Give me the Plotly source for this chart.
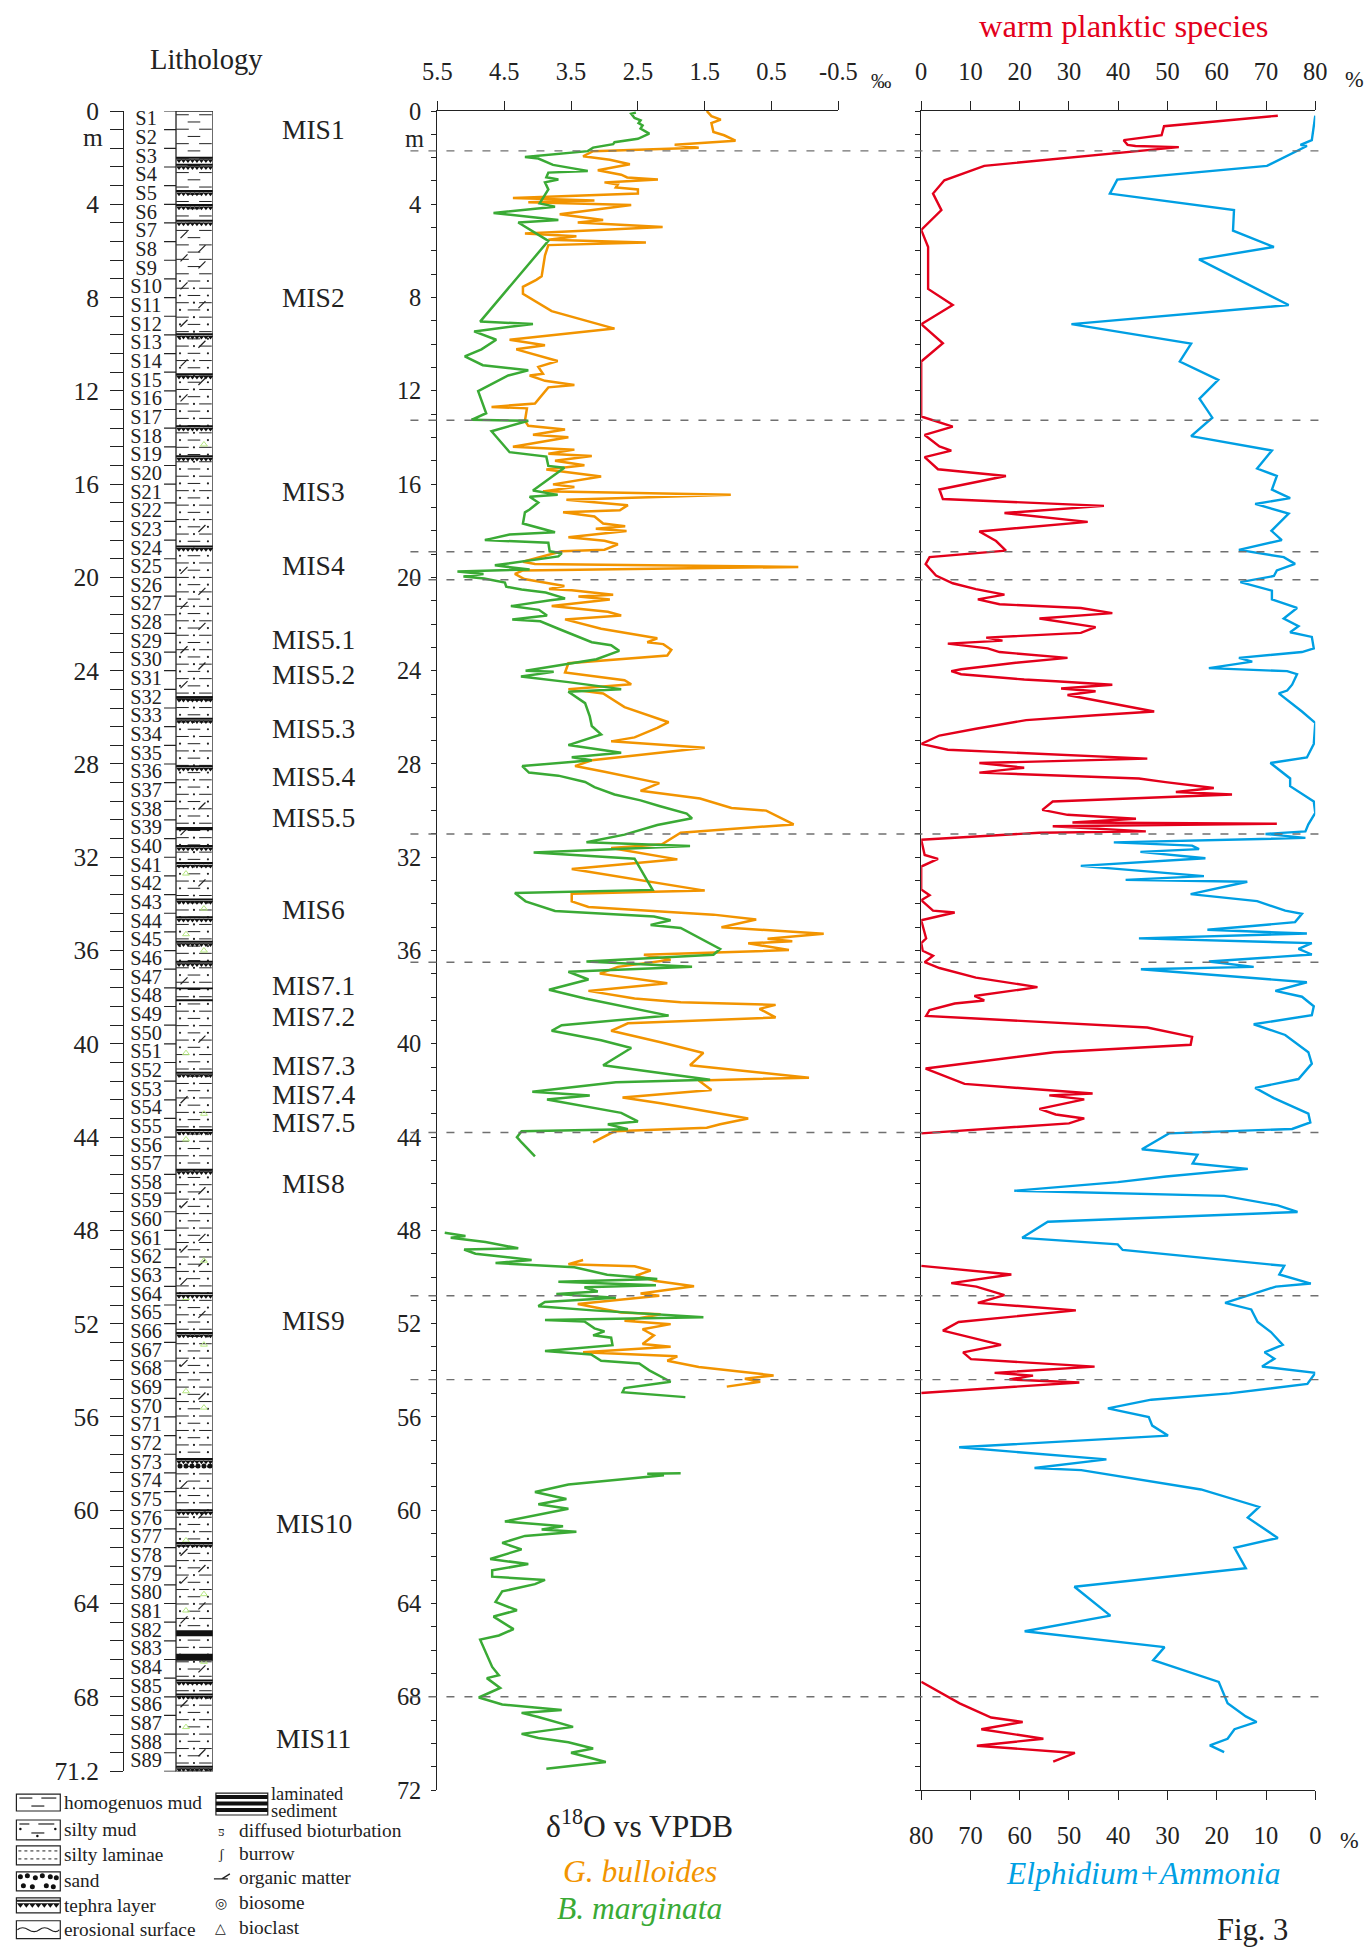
import numpy as np
import plotly.graph_objects as go

W, H = 1368, 1957
# observed capture transform: shown = A + B * page  (compensated below)
AX, BX = 13.6, 0.9775
AY, BY = 14.75, 0.9875
FS = 1 / 0.982
FONT = "Liberation Serif, Times New Roman, serif"
ORANGE = "#F29400"
GREEN = "#3AAA35"
RED = "#E3001B"
BLUE = "#009FE3"
DASH = "#707070"

# ---------------- data ----------------
# G. bulloides d18O (permil) vs depth (m); None = gap
gb_depth = [0.0, 0.22, 0.37, 0.52, 0.90, 1.04, 1.27, 1.45, 1.57, 1.72, 1.94, 2.09, 2.28, 2.54, 2.73, 2.85, 2.94,
            3.06, 3.15, 3.28, 3.36, 3.54, 3.73, 3.84, 3.91, 4.03, 4.43, 4.67, 4.78, 4.97, 5.25, 5.37, 5.52, 5.64,
            5.75, 6.19, 7.09, 7.24, 7.54, 7.84, 8.58, 9.33, 9.81, 10.04, 10.22, 10.72, 10.97, 11.27, 11.34, 11.57,
            11.75, 11.85, 12.54, 12.69, 12.75, 13.28, 13.50, 13.66, 13.88, 13.99, 14.40, 14.52, 14.70, 14.79, 15.00,
            15.19, 15.37, 15.67, 16.01, 16.12, 16.31, 16.46, 16.67, 16.78, 16.90, 17.12, 17.21, 17.39, 17.69, 17.81,
            17.91, 18.01, 18.28, 18.43, 18.58, 18.81, 18.88, 19.33, 19.42, 19.55, 19.70, 19.85, 20.07, 20.37, 20.50,
            20.55, 20.74, 20.82, 20.95, 21.23, 21.39, 21.47, 21.63, 21.80, 22.20, 22.29, 22.61, 22.78, 22.86, 23.10,
            23.35, 23.68, 24.08, 24.41, 24.58, 24.79, 24.98, 25.56, 25.92, 26.21, 26.45, 26.86, 27.03, 27.30, 27.84,
            28.09, 28.33, 28.58, 28.82, 29.15, 29.48, 29.89, 30.00, 30.59, 30.95, 31.44, 31.60, 32.09, 32.50, 33.43,
            33.56, 33.89, 34.13, 34.46, 34.67, 35.00, 35.28, 35.49, 35.60, 35.69, 35.98, 36.18, 36.39, 36.70, 36.99,
            37.40, 37.73, 38.06, 38.22, 38.33, 38.50, 38.87, 39.12, 39.44, 39.93, 40.39, 40.92, 41.45, 41.57, 41.98,
            42.30, 42.55, 42.96, 43.20, 43.45, 43.60, 43.75, 44.23, None,
            49.27, 49.45, 49.54, 49.72, 49.94, 50.17, 50.40, 50.71, 50.80, 51.16, 51.52, 51.60, 51.88, 52.02, 52.24,
            52.50, 52.87, 52.99, 53.23, 53.40, 53.59, 53.86, 54.22, 54.36, 54.49, 54.70]
gb_d18o = [1.47, 1.40, 1.26, 1.40, 1.37, 1.21, 1.04, 1.95, 1.59, 3.17, 3.32, 2.92, 2.62, 3.10, 2.75, 2.66, 2.20,
           3.00, 2.80, 2.83, 2.50, 2.50, 4.37, 3.15, 4.14, 2.60, 3.67, 3.02, 3.40, 2.13, 4.19, 3.42, 3.84, 2.38,
           3.84, 3.89, 3.94, 4.02, 4.22, 4.22, 3.79, 2.85, 4.42, 3.89, 4.32, 3.70, 3.99, 3.92, 4.12, 3.89,
           3.45, 3.84, 4.04, 4.69, 4.16, 4.19, 4.14, 3.59, 4.07, 3.54, 4.37, 3.45, 3.84, 3.19, 3.74,
           3.30, 3.87, 3.05, 3.77, 3.45, 3.92, 1.11, 3.57, 3.15, 2.65, 2.77, 3.62, 3.15, 3.02, 2.69,
           3.13, 2.67, 3.54, 3.00, 2.80, 3.00, 3.64, 4.22, 4.04, 0.10, 4.22, 4.34, 4.20, 3.60, 3.83,
           3.49, 2.87, 3.39, 2.92, 3.79, 3.19, 2.95, 2.75, 3.59, 3.05, 2.85, 2.21, 2.36, 2.12, 2.00,
           2.06, 3.54, 3.59, 2.70, 2.60, 3.54, 3.02, 2.70, 2.33, 2.04, 2.21, 2.55, 2.90, 1.50, 3.19,
           3.44, 3.00, 2.58, 2.18, 2.46, 1.57, 1.10, 0.58, 0.17, 1.86, 2.14, 2.90, 1.91, 3.49, 1.50,
           3.49, 3.49, 3.24, 1.37, 0.73, 1.25, -0.28, 0.56, 0.19, 0.85, 0.24, 2.41, 2.01, 2.80, 3.07,
           2.06, 3.24, 2.55, 1.86, 0.44, 0.68, 0.44, 2.65, 2.90, 2.16, 1.52, 1.72, -0.06, 1.59, 1.40,
           2.73, 2.16, 1.37, 0.85, 1.27, 1.47, 2.85, 3.17, None,
           3.32, 3.54, 2.55, 2.31, 2.53, 2.23, 1.66, 2.46, 2.18, 3.40, 2.75, 2.16, 2.70, 2.01, 2.43,
           2.26, 2.43, 2.01, 3.32, 1.91, 2.06, 1.59, 0.47, 0.90, 0.67, 1.17]

# B. marginata d18O
bm_depth = [0.07, 0.12, 0.30, 0.40, 0.52, 0.62, 0.75, 0.97, 1.19, 1.34, 1.42, 1.57, 1.72, 1.97, 2.04, 2.31, 2.46,
            2.57, 2.64, 2.84, 2.94, 3.06, 3.36, 3.58, 3.96, 4.10, 4.37, 4.67, 4.78, 5.57, 9.03, 9.13, 9.45, 9.81,
            10.22, 10.52, 10.90, 11.12, 11.34, 12.01, 12.96, 13.24, 13.28, 13.73, 14.63, 14.82, 15.22, 15.30, 16.27,
            16.46, 16.54, 16.79, 17.09, 17.21, 17.69, 18.06, 18.16, 18.40, 18.51, 18.88, 18.96, 19.10, 19.48, 19.66,
            19.75, 19.85, 19.96, 20.05, 20.22, 20.40, 20.52, 20.65, 20.90, 20.98, 21.23, 21.39, 21.63, 21.80, 21.88,
            22.20, 22.48, 22.78, 22.91, 23.15, 23.51, 23.76, 24.00, 24.05, 24.25, 24.49, 24.79, 24.90, 25.39, 25.96,
            26.37, 26.73, 27.19, 27.52, 27.71, 27.84, 28.09, 28.37, 28.50, 28.77, 28.99, 29.31, 29.56, 29.80, 30.13,
            30.33, 30.62, 31.03, 31.36, 31.52, 31.80, 32.06, 33.40, 33.53, 33.89, 34.30, 34.54, 34.70, 34.90, 35.03,
            35.93, 36.18, 36.47, 36.70, 36.91, 37.24, 37.40, 37.68, 38.06, 38.79, 39.20, 39.44, 39.85, 40.18, 40.92,
            41.54, 41.65, 42.06, 42.22, 42.39, 42.96, 43.33, 43.45, 43.66, 43.75, 44.00, 44.23, 44.83, None,
            48.10, 48.17, 48.24, 48.32, 48.50, 48.77, 48.82, 49.00, 49.27, 49.40, 49.58, 49.90, 50.08, 50.20, 50.35,
            50.44, 50.62, 50.73, 50.89, 51.07, 51.25, 51.43, 51.73, 51.84, 51.91, 52.20, 52.33, 52.50, 52.60, 52.92,
            53.17, 53.32, 53.59, 53.71, 54.00, 54.49, 54.76, 54.94, 55.15, None,
            58.41, 58.44, 58.50, 58.90, 59.22, 59.52, 59.74, 59.94, 60.48, 60.69, 60.83, 60.92, 61.10, 61.40, 61.68,
            62.09, 62.31, 62.58, 62.85, 62.99, 63.17, 63.35, 63.48, 63.93, 64.29, 64.56, 65.10, 65.37, 65.55, 66.72,
            67.08, 67.20, 67.62, 68.03, 68.33, 68.57, 68.69, 68.87, 69.29, 69.59, 69.77, 69.95, 70.22, 70.40, 70.80,
            71.09]
bm_d18o = [2.53, 2.60, 2.55, 2.46, 2.49, 2.43, 2.46, 2.33, 2.50, 2.85, 2.87, 3.17, 3.25, 4.19, 3.99, 3.77, 3.47,
           3.25, 3.84, 3.87, 3.69, 3.89, 3.84, 3.89, 3.97, 3.74, 4.66, 3.69, 4.29, 3.84, 4.86, 4.07, 4.95, 4.62,
           4.84, 5.09, 4.82, 4.14, 4.44, 4.89, 4.77, 4.99, 4.14, 4.69, 4.42, 3.87, 3.84, 3.60, 4.07,
           3.70, 4.12, 3.99, 4.12, 4.19, 4.22, 3.74, 4.42, 4.79, 3.84, 3.82, 3.64, 3.69, 4.64, 4.12,
           5.20, 4.81, 5.11, 4.80, 4.49, 4.47, 4.24, 3.88, 3.59, 3.81, 4.40, 3.98, 3.86, 4.38, 3.96,
           3.69, 3.44, 3.19, 2.90, 2.78, 3.12, 3.69, 4.18, 3.76, 4.25, 3.54, 2.75, 3.54, 3.29, 3.22,
           3.19, 3.05, 3.54, 2.75, 3.49, 3.19, 4.23, 4.13, 3.69, 3.29, 3.15, 2.85, 2.46, 2.18, 1.77,
           1.69, 2.21, 2.70, 3.27, 1.72, 4.06, 2.55, 2.28, 4.34, 4.18, 3.74, 2.26, 2.01, 2.31, 1.86,
           1.27, 1.37, 3.27, 1.69, 3.54, 3.24, 3.47, 3.83, 3.29, 2.04, 3.64, 3.79, 3.05, 2.60, 3.02,
           1.42, 2.83, 4.08, 3.22, 3.86, 2.75, 2.50, 2.95, 2.65, 4.24, 4.31, 4.24, 4.04, None,
           5.39, 5.23, 5.08, 5.30, 4.78, 4.29, 5.10, 4.93, 4.09, 4.63, 3.45, 2.96, 2.21, 3.69, 2.23,
           3.30, 3.10, 3.72, 2.83, 3.89, 3.99, 3.17, 1.52, 3.89, 3.30, 3.15, 3.00, 3.17, 2.90, 2.88,
           3.89, 3.20, 3.05, 2.48, 2.33, 2.01, 2.70, 2.73, 1.79, None,
           1.86, 2.36, 2.11, 3.54, 4.04, 3.57, 3.99, 3.54, 4.49, 3.62, 3.94, 3.42, 4.19, 4.53, 4.24,
           4.71, 4.14, 4.68, 4.68, 3.89, 4.04, 4.31, 4.53, 4.63, 4.31, 4.66, 4.36, 4.58, 4.86, 4.68,
           4.58, 4.76, 4.56, 4.88, 4.53, 3.64, 4.24, 3.99, 3.47, 4.24, 3.99, 3.54, 3.17, 3.50, 2.98,
           3.87]

# warm planktic species (%)
warm_depth = [0.20, 0.65, 1.04, 1.25, 1.45, 1.50, 1.55, 2.35, 2.97, 3.54, 4.25, 5.10, 5.83, 7.63, 8.32, 9.14,
              9.96, 10.74, 13.10, 13.53, 13.89, 14.38, 14.56, 14.84, 15.36, 15.65, 16.23, 16.64, 16.93, 17.24,
              17.62, 18.03, 18.44, 18.85, 19.13, 19.43, 19.92, 20.25, 20.50, 20.74, 20.94, 21.15, 21.31, 21.53,
              21.76, 22.13, 22.38, 22.58, 22.71, 22.84, 23.04, 23.20, 23.45, 23.66, 23.94, 24.02, 24.15, 24.38,
              24.45, 24.60, 24.76, 24.88, 25.04, 25.58, 25.75, 25.91, 26.12, 26.49, 26.78, 27.14, 27.39, 27.77,
              27.96, 28.16, 28.37, 28.62, 28.78, 29.03, 29.20, 29.31, 29.61, 29.97, 30.18, 30.35, 30.51, 30.56,
              30.67, 30.89, 30.95, 31.25, 31.90, 32.07, 32.40, 33.38, 33.63, 33.84, 34.29, 34.37, 34.70, 35.48,
              35.68, 36.01, 36.22, 36.50, 36.75, 37.16, 37.57, 37.95, 38.14, 38.27, 38.55, 38.80, 39.10, 39.30,
              39.70, 40.04, 40.36, 40.65, 41.06, 41.72, 42.13, 42.21, 42.38, 42.79, 43.03, 43.20, 43.41, 43.84, None,
              49.52, 49.89, 50.26, 50.41, 50.78, 51.11, 51.43, 51.93, 52.30, 52.91, 53.23, 53.52, 53.84, 54.11,
              54.23, 54.39, 54.52, 54.97, None,
              67.36, 68.28, 68.89, 69.08, 69.39, 69.80, 70.10, 70.41, 70.78]
warm_pct = [72.4, 49.3, 48.8, 41.1, 41.9, 43.5, 52.3, 12.8, 4.7, 2.4, 4.1, 0.0, 1.4, 1.4, 6.4, 0.0,
            4.4, 0.0, 0.0, 6.4, 0.7, 3.7, 6.1, 0.7, 3.4, 17.2, 3.7, 4.4, 37.1, 16.9,
            33.8, 11.8, 15.2, 17.2, 1.7, 0.9, 3.0, 6.4, 11.1, 16.9, 11.5, 15.9, 32.4, 38.8,
            24.0, 35.4, 32.4, 13.2, 16.5, 5.4, 13.5, 15.9, 29.7, 19.2, 8.1, 6.1, 8.1, 20.9,
            27.3, 38.8, 28.4, 35.4, 29.7, 43.6, 47.3, 35.4, 21.3, 11.1, 3.7, 0.0, 5.4, 45.9,
            11.8, 20.9, 11.8, 44.2, 49.6, 59.4, 51.7, 63.1, 26.7, 24.6, 29.7, 43.6, 30.7, 72.2,
            26.7, 45.6, 24.0, 0.0, 0.7, 3.4, 0.0, 0.0, 1.7, 0.0, 2.4, 6.8, 0.0, 1.0,
            0.0, 0.3, 2.4, 0.7, 3.7, 11.1, 23.6, 10.8, 12.8, 6.8, 1.7, 1.0, 29.4, 45.9,
            55.0, 54.7, 27.0, 16.5, 0.9, 8.8, 34.8, 26.0, 33.1, 24.0, 27.3, 33.1, 30.0, 0.0, None,
            0.0, 18.3, 6.1, 11.2, 16.9, 11.5, 31.4, 7.6, 4.4, 16.2, 8.5, 10.1, 35.2, 14.9,
            22.7, 17.9, 32.1, 0.0, None,
            0.0, 7.8, 14.2, 20.6, 12.2, 24.8, 11.3, 31.2, 26.8]

# Elphidium + Ammonia (%), plotted on reversed bottom axis
elph_depth = [0.20, 1.25, 1.45, 1.50, 2.35, 2.94, 3.54, 4.25, 5.13, 5.83, 6.36, 8.32, 9.14, 9.97, 10.74, 11.53,
              12.33, 13.15, 13.94, 14.56, 15.33, 15.65, 16.23, 16.60, 16.85, 17.26, 18.00, 18.40, 18.82, 19.13,
              19.42, 19.70, 19.94, 20.20, 20.57, 20.94, 21.31, 21.76, 22.09, 22.35, 22.55, 23.04, 23.20, 23.45,
              23.61, 23.89, 24.02, 24.15, 24.60, 24.85, 24.97, 25.75, 26.24, 27.14, 27.72, 27.96, 28.62, 28.95,
              29.61, 30.10, 30.59, 30.89, 31.00, 31.17, 31.36, 31.50, 31.65, 31.77, 32.04, 32.37, 32.81, 32.97,
              33.05, 33.58, 33.88, 34.29, 34.42, 34.78, 34.95, 35.11, 35.27, 35.48, 35.68, 35.93, 36.17, 36.47,
              36.70, 36.80, 37.36, 37.73, 37.98, 38.39, 38.77, 39.16, 39.62, 40.36, 40.85, 41.51, 41.89, 42.33,
              42.99, 43.37, 43.65, 43.84, 44.52, 44.76, 45.13, 45.36, 45.69, 45.93, 46.30, 46.52, 46.93, 47.21,
              47.63, 48.32, 48.60, 48.84, 49.52, 49.89, 50.28, 50.41, 51.11, 51.39, 51.93, 52.36, 52.91, 53.23,
              53.50, 53.84, 54.11, 54.39, 54.58, 54.99, 55.26, 55.63, 56.00, 56.37, 56.80, 57.30, 57.82, 58.19,
              58.28, 59.11, 59.86, 60.32, 61.19, 61.61, 62.49, 63.28, 64.52, 65.19, 65.87, 66.43, 67.36, 68.28,
              68.84, 69.08, 69.39, 69.80, 70.08, 70.37]
elph_pct = [0.0, 0.7, 3.0, 1.7, 9.8, 40.2, 41.7, 16.5, 16.7, 8.4, 23.6, 5.4, 49.5, 25.2, 27.5, 19.7,
            23.5, 20.9, 25.2, 8.8, 11.8, 7.8, 8.8, 5.1, 12.2, 5.4, 8.9, 6.8, 15.5, 6.4,
            4.1, 7.8, 8.4, 15.2, 8.8, 8.8, 3.7, 6.4, 3.4, 5.1, 0.7, 0.3, 2.7, 15.5,
            12.8, 21.6, 5.7, 3.7, 4.7, 5.7, 7.4, 2.7, 0.0, 0.3, 1.7, 9.1, 5.1, 5.1,
            0.3, 0.0, 1.4, 2.0, 10.1, 2.0, 40.9, 25.0, 23.6, 35.5, 22.3, 47.6, 22.6, 38.5,
            13.8, 25.3, 11.8, 6.1, 2.7, 4.1, 12.8, 21.9, 1.7, 35.8, 0.7, 3.4, 0.7, 21.6,
            12.5, 35.4, 1.7, 8.1, 2.7, 0.3, 0.7, 12.5, 6.1, 1.4, 0.7, 3.4, 12.2, 8.4,
            1.4, 1.0, 4.7, 29.7, 35.2, 23.9, 24.9, 13.7, 30.3, 40.1, 61.1, 18.5, 7.6, 3.6,
            54.3, 59.5, 40.1, 39.1, 6.3, 7.3, 0.9, 8.0, 18.3, 13.0, 11.7, 9.0, 6.6, 10.3,
            8.3, 10.8, 0.0, 0.9, 1.6, 17.4, 33.3, 42.1, 33.8, 33.1, 29.9, 72.3, 42.4, 57.0,
            47.5, 23.2, 11.4, 13.7, 7.6, 16.4, 14.1, 48.9, 41.6, 59.0, 30.6, 32.9, 19.6, 17.8,
            14.1, 11.9, 16.4, 17.8, 21.4, 18.5]

mis_labels = ["MIS1", "MIS2", "MIS3", "MIS4", "MIS5.1", "MIS5.2", "MIS5.3", "MIS5.4", "MIS5.5", "MIS6",
              "MIS7.1", "MIS7.2", "MIS7.3", "MIS7.4", "MIS7.5", "MIS8", "MIS9", "MIS10", "MIS11"]
mis_depth = [0.8, 8.0, 16.35, 19.5, 22.7, 24.2, 26.5, 28.55, 30.3, 34.25, 37.5, 38.85, 40.95, 42.2, 43.4,
             46.0, 51.9, 60.6, 69.8]
boundary_depth = [1.71, 13.26, 18.9, 20.1, 31.0, 36.5, 43.8, 50.8, 54.4, 68.0]

d18o_ticks = [5.5, 4.5, 3.5, 2.5, 1.5, 0.5, -0.5]
d18o_ticktext = ["5.5", "4.5", "3.5", "2.5", "1.5", "0.5", "-0.5"]
pct_ticks = [0, 10, 20, 30, 40, 50, 60, 70, 80]
depth_ticks = list(range(0, 73))
depth_labels = [str(v) if v % 4 == 0 else "" for v in depth_ticks]

# lithology column
sample_labels = ["S%d" % i for i in range(1, 90)]
sample_bounds = [round(0.8 * i, 1) for i in range(90)]
sample_ticktext = [("%g" % b) if (abs(b / 4 - round(b / 4)) < 1e-6 or b == 71.2) else "" for b in sample_bounds]
mud_base = 7.2
tephra_depth = [2.0, 2.3, 3.43, 4.03, 4.71, 9.57, 11.29, 13.52, 14.8, 18.67, 25.14, 26.06, 28.1, 31.52, 32.25,
                33.81, 34.57, 35.62, 36.48, 41.24, 43.7, 45.4, 50.7, 52.4, 57.8, 60.0, 61.4, 67.3, 67.9, 71.0]
laminated_top = [25.1, 30.7, 37.58, 38.09, 65.15, 66.15]
laminated_bot = [25.2, 30.84, 37.66, 38.17, 65.4, 66.45]
sand_depth = [58.1]
organic_depth = [5.3, 5.9, 6.3, 6.6, 7.5, 8.3, 9.1, 10.0, 10.8, 11.6, 12.3, 17.9, 19.7, 20.6, 21.2, 22.1, 23.1,
                 23.8, 24.6, 29.8, 30.9, 33.1, 37.3, 39.8, 42.4, 46.3, 46.9, 48.3, 48.8, 49.4, 50.2, 51.6,
                 53.7, 55.1, 58.9, 60.2, 61.8, 62.5, 63.0, 64.1, 64.7, 66.8, 68.3, 70.4]
bioclast_depth = [14.3, 32.7, 34.2, 35.3, 36.0, 40.4, 43.0, 44.1, 49.3, 50.9, 52.9, 54.9, 55.6, 61.3, 63.6,
                  64.3, 66.5, 69.3]

# ---------------- geometry (target px of the reference) ----------------
TOP, BOT = 112.0, 1795.0
PXM = (BOT - TOP) / 72.0
LITH_BOT = TOP + 71.2 * PXM


def PX(x):
    return ((x - AX) / BX) / W


def PY(y):
    return 1 - ((y - AY) / BY) / H


dom_y = [PY(BOT), PY(TOP)]

fig = go.Figure()

# data traces
fig.add_trace(go.Scatter(x=gb_d18o, y=gb_depth, xaxis="x", yaxis="y", mode="lines",
                         line=dict(color=ORANGE, width=2.5), connectgaps=False, name="G. bulloides"))
fig.add_trace(go.Scatter(x=bm_d18o, y=bm_depth, xaxis="x", yaxis="y", mode="lines",
                         line=dict(color=GREEN, width=2.5), connectgaps=False, name="B. marginata"))
fig.add_trace(go.Scatter(x=warm_pct, y=warm_depth, xaxis="x2", yaxis="y2", mode="lines",
                         line=dict(color=RED, width=2.4), connectgaps=False, name="warm planktic"))
fig.add_trace(go.Scatter(x=elph_pct, y=elph_depth, xaxis="x3", yaxis="y2", mode="lines",
                         line=dict(color=BLUE, width=2.4), connectgaps=False, name="Elphidium+Ammonia"))

# lithology pattern (x4 units = px offset from x=123)
COL_L, COL_R = 52, 89
rows = np.arange(0.16, 71.2, 0.31)
dash_x, dash_y, dot_x, dot_y = [], [], [], []
for i, r in enumerate(rows):
    if i % 2 == 0:
        xs = [58.5, 81.5]
        ds = [70]
    else:
        xs = [70]
        ds = [56, 84]
    for xx in xs:
        dash_x.append(xx)
        dash_y.append(r)
    if r > mud_base:
        for xx in ds:
            dot_x.append(xx)
            dot_y.append(r)
fig.add_trace(go.Scatter(x=dash_x, y=dash_y, xaxis="x4", yaxis="y4", mode="markers",
                         marker=dict(symbol="line-ew", size=9, line=dict(width=1, color="#222"))))
fig.add_trace(go.Scatter(x=dot_x, y=dot_y, xaxis="x4", yaxis="y4", mode="markers",
                         marker=dict(symbol="circle", size=2.2, color="#222")))
org_x = [60 if i % 2 == 0 else 78 for i in range(len(organic_depth))]
fig.add_trace(go.Scatter(x=org_x, y=organic_depth, xaxis="x4", yaxis="y4", mode="markers",
                         marker=dict(symbol="line-ne", size=7, line=dict(width=1.2, color="#222"))))
bio_x = [80 if i % 2 == 0 else 62 for i in range(len(bioclast_depth))]
fig.add_trace(go.Scatter(x=bio_x, y=bioclast_depth, xaxis="x4", yaxis="y4", mode="markers",
                         marker=dict(symbol="triangle-up-open", size=6, line=dict(width=1, color="#222"))))
tri_x, tri_y = [], []
for d in tephra_depth:
    for xx in np.arange(COL_L + 3, COL_R - 1, 4.5):
        tri_x.append(xx)
        tri_y.append(d + 0.12)
fig.add_trace(go.Scatter(x=tri_x, y=tri_y, xaxis="x4", yaxis="y4", mode="markers",
                         marker=dict(symbol="triangle-down", size=5, color="#111")))
sx, sy = [], []
for d in sand_depth:
    for xx in np.arange(COL_L + 4, COL_R, 6):
        sx.append(xx)
        sy.append(d)
fig.add_trace(go.Scatter(x=sx, y=sy, xaxis="x4", yaxis="y4", mode="markers",
                         marker=dict(symbol="circle", size=5, color="#111")))
# ticks on column edge
tx, ty = [], []
for b in sample_bounds:
    tx += [40, COL_L, None]
    ty += [b, b, None]
fig.add_trace(go.Scatter(x=tx, y=ty, xaxis="x4", yaxis="y4", mode="lines",
                         line=dict(color="#222", width=1.2)))
# sample labels
mids = [(sample_bounds[i] + sample_bounds[i + 1]) / 2 for i in range(89)]
fig.add_trace(go.Scatter(x=[22] * 89, y=mids, xaxis="x4", yaxis="y4", mode="text", text=sample_labels,
                         textfont=dict(family=FONT, size=20 * FS, color="#222"), textposition="middle center"))

shapes = []
for d in tephra_depth:
    shapes.append(dict(type="line", xref="x4", yref="y4", x0=COL_L, x1=COL_R, y0=d, y1=d,
                       line=dict(color="#111", width=2)))
for a, b in zip(laminated_top, laminated_bot):
    shapes.append(dict(type="rect", xref="x4", yref="y4", x0=COL_L, x1=COL_R, y0=a, y1=b,
                       fillcolor="#111", line=dict(width=0)))
shapes.append(dict(type="rect", xref="x4", yref="y4", x0=COL_L, x1=COL_R, y0=0, y1=71.2,
                   line=dict(color="#222", width=1.3)))
# MIS boundaries
for d in boundary_depth:
    shapes.append(dict(type="line", xref="paper", yref="y", x0=PX(410), x1=PX(1325), y0=d, y1=d,
                       line=dict(color=DASH, width=1.4, dash="8px,10px")))


# legend boxes (pixel overlay x5/y5 in reference px)
def box(x0, y0, x1, y1):
    shapes.append(dict(type="rect", xref="x5", yref="y5", x0=x0, x1=x1, y0=y0, y1=y1,
                       line=dict(color="#222", width=1.2)))


def seg(x0, y0, x1, y1, w=1.2, dash=None):
    ln = dict(color="#222", width=w)
    if dash:
        ln["dash"] = dash
    shapes.append(dict(type="line", xref="x5", yref="y5", x0=x0, x1=x1, y0=y0, y1=y1, line=ln))


LX0, LX1 = 15, 59
box(LX0, 1799, LX1, 1816)
seg(18, 1803, 31, 1803); seg(40, 1803, 55, 1803); seg(30, 1811, 43, 1811)
box(LX0, 1825, LX1, 1845)
seg(18, 1829, 28, 1829); seg(37, 1829, 53, 1829); seg(30, 1838, 43, 1838)
box(LX0, 1851, LX1, 1870)
seg(17, 1856, 57, 1856, 1, "dot"); seg(17, 1864, 57, 1864, 1, "dot")
box(LX0, 1877, LX1, 1896)
box(LX0, 1903, LX1, 1918)
seg(LX0, 1906, LX1, 1906, 2)
box(LX0, 1926, LX1, 1944)
shapes.append(dict(type="path", xref="x5", yref="y5",
                   path="M 16 1935 Q 21 1931 27 1935 T 38 1935 T 49 1935 T 58 1935",
                   line=dict(color="#222", width=1.2)))
box(215, 1798, 267, 1820)
for yy in (1802, 1808.5, 1815):
    shapes.append(dict(type="rect", xref="x5", yref="y5", x0=215, x1=267, y0=yy - 2, y1=yy + 2,
                       fillcolor="#111", line=dict(width=0)))
shapes.append(dict(type="path", xref="x5", yref="y5", path="M 213 1884 L 227 1884 M 221 1884 L 229 1879",
                   line=dict(color="#222", width=1.3)))

leg_sand_x = [19, 26, 34, 41, 49, 55, 22, 31, 45, 52]
leg_sand_y = [1882, 1881, 1883, 1881, 1882, 1883, 1891, 1892, 1891, 1892]
fig.add_trace(go.Scatter(x=leg_sand_x, y=leg_sand_y, xaxis="x5", yaxis="y5", mode="markers",
                         marker=dict(symbol="circle", size=5, color="#111")))
leg_tri_x = [19, 25, 31, 37, 43, 49, 55]
fig.add_trace(go.Scatter(x=leg_tri_x, y=[1910] * 7, xaxis="x5", yaxis="y5", mode="markers",
                         marker=dict(symbol="triangle-down", size=6, color="#111")))
fig.add_trace(go.Scatter(x=[36, 19, 54], y=[1841, 1834, 1834], xaxis="x5", yaxis="y5", mode="markers",
                         marker=dict(symbol="circle", size=2.5, color="#111")))

# ---------------- annotations ----------------
ann = []


def txt(x, y, s, size, color="#222", xanchor="center", yanchor="middle", italic=False, yref="paper", yv=None):
    ann.append(dict(x=PX(x), y=(PY(y) if yv is None else yv), xref="paper", yref=yref, text=s,
                    showarrow=False, xanchor=xanchor, yanchor=yanchor,
                    font=dict(family=FONT, size=size * FS, color=color,
                              style="italic" if italic else "normal")))


txt(206, 60, "Lithology", 28)
txt(92, 139, "m", 25)
txt(414, 140, "m", 24)
txt(882, 82, "‰", 20)
txt(1356, 80, "%", 22)
txt(1351, 1846, "%", 22)
txt(1125, 27, "warm planktic species", 32, RED)
txt(640, 1829, "δ<sup>18</sup>O vs VPDB", 31)
txt(640, 1877, "G. bulloides", 31, ORANGE, italic=True)
txt(640, 1914, "B. marginata", 31, GREEN, italic=True)
txt(1145, 1879, "Elphidium+Ammonia", 31, BLUE, italic=True)
txt(1254, 1935, "Fig. 3", 30)
for lab, d in zip(mis_labels, mis_depth):
    txt(313, 0, lab, 27, yref="y", yv=d)

leg_left = [("homogenuos mud", 1807), ("silty mud", 1835), ("silty laminae", 1860), ("sand", 1886),
            ("tephra layer", 1911), ("erosional surface", 1935)]
for s, yy in leg_left:
    txt(61, yy, s, 19, xanchor="left")
txt(268, 1799, "laminated", 18, xanchor="left")
txt(268, 1816, "sediment", 18, xanchor="left")
leg_right = [("ƽ", "diffused bioturbation", 1836), ("ʃ", "burrow", 1859), ("", "organic matter", 1883),
             ("◎", "biosome", 1908), ("△", "bioclast", 1933)]
for sym, s, yy in leg_right:
    if sym:
        txt(220, yy, sym, 14)
    txt(236, yy, s, 19, xanchor="left")

ax_common = dict(showgrid=False, zeroline=False, linecolor="#222", linewidth=1.3, tickcolor="#222",
                 tickwidth=1.2, tickfont=dict(family=FONT, size=24 * FS, color="#222"))

fig.update_layout(
    width=W, height=H, margin=dict(l=0, r=0, t=0, b=0), paper_bgcolor="white", plot_bgcolor="rgba(0,0,0,0)",
    showlegend=False, shapes=shapes, annotations=ann,
    xaxis=dict(domain=[PX(437), PX(839)], range=[5.5, -0.5], side="top", anchor="y", showline=True,
               tickmode="array", tickvals=d18o_ticks, ticktext=d18o_ticktext, ticks="outside", ticklen=9,
               ticklabelstandoff=11, **ax_common),
    yaxis=dict(domain=dom_y, range=[72, 0], anchor="x", showline=True, tickmode="array",
               tickvals=depth_ticks, ticktext=depth_labels, ticks="outside", ticklen=5, ticklabelstandoff=5,
               **ax_common),
    xaxis2=dict(domain=[PX(922), PX(1317)], range=[0, 80], side="top", anchor="y2", showline=True,
                tickmode="array", tickvals=pct_ticks, ticks="outside", ticklen=9, ticklabelstandoff=11,
                **ax_common),
    yaxis2=dict(domain=dom_y, range=[72, 0], anchor="x2", showline=True, tickmode="array",
                tickvals=depth_ticks, showticklabels=False, ticks="outside", ticklen=5, **ax_common),
    xaxis3=dict(overlaying="x2", range=[80, 0], side="bottom", anchor="y2", showline=True,
                tickmode="array", tickvals=pct_ticks, ticks="outside", ticklen=9, ticklabelstandoff=14,
                **ax_common),
    xaxis4=dict(domain=[PX(123), PX(212)], range=[0, 89], anchor="y4", visible=False),
    yaxis4=dict(domain=[PY(LITH_BOT), PY(TOP)], range=[71.2, 0], anchor="x4", showline=True,
                tickmode="array", tickvals=sample_bounds, ticktext=sample_ticktext, ticks="outside",
                ticklen=13, ticklabelstandoff=6,
                **{**ax_common, "tickfont": dict(family=FONT, size=25 * FS, color="#222")}),
    xaxis5=dict(domain=[0, 1], range=[AX, AX + BX * W], anchor="y5", visible=False),
    yaxis5=dict(domain=[0, 1], range=[AY + BY * H, AY], anchor="x5", visible=False),
)

fig.write_html("out.html", config={"displayModeBar": False},
               post_script="document.body.style.margin='0';document.body.style.overflow='hidden';")
